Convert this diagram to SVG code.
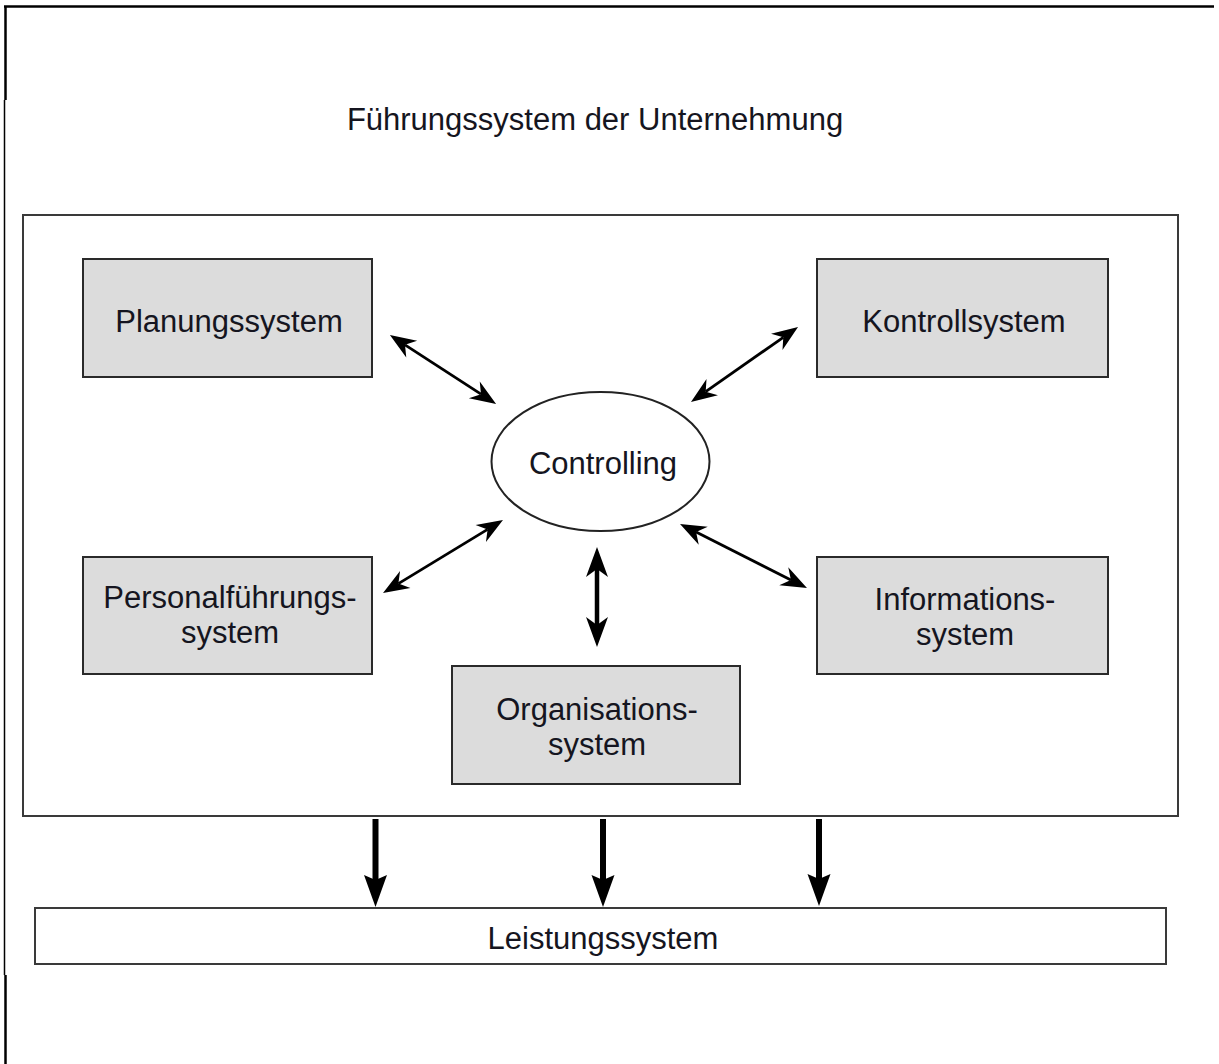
<svg xmlns="http://www.w3.org/2000/svg" width="1219" height="1064" viewBox="0 0 1219 1064">
  <style>
    .txt { font-family: "Liberation Sans", Arial, sans-serif; font-size: 31px; fill: #151520; text-anchor: middle; }
    .box { fill: #dcdcdc; stroke: #2a2a2a; stroke-width: 2; }
    .wbox { fill: #ffffff; stroke: #3a3a3a; stroke-width: 2; }
    .thin { stroke: #000; stroke-width: 2.8; fill: none; }
    .mid { stroke: #000; stroke-width: 4.5; fill: none; }
    .thick { stroke: #000; stroke-width: 6; fill: none; }
    .frame { stroke: #000; fill: none; }
  </style>
  <defs>
    <marker id="ah" markerUnits="userSpaceOnUse" orient="auto-start-reverse" refX="8" refY="0" markerWidth="30" markerHeight="24" viewBox="0 -12 30 24" overflow="visible">
      <path d="M0,-10 L26,0 L0,10 L8,0 Z" fill="#000"/>
    </marker>
    <marker id="ahv" markerUnits="userSpaceOnUse" orient="auto-start-reverse" refX="8" refY="0" markerWidth="34" markerHeight="26" viewBox="0 -13 34 26" overflow="visible">
      <path d="M0,-11 L30,0 L0,11 L8,0 Z" fill="#000"/>
    </marker>
    <marker id="ahd" markerUnits="userSpaceOnUse" orient="auto" refX="5" refY="0" markerWidth="36" markerHeight="28" viewBox="0 -14 36 28" overflow="visible">
      <path d="M0,-11.5 L32,0 L0,11.5 L5,0 Z" fill="#000"/>
    </marker>
  </defs>

  <rect x="0" y="0" width="1219" height="1064" fill="#ffffff"/>

  <g id="frame">
    <line class="frame" x1="4" y1="6.5" x2="1214" y2="6.5" stroke-width="2.5"/>
    <line class="frame" x1="5.5" y1="6" x2="5.5" y2="100" stroke-width="2.5"/>
    <line class="frame" x1="4.5" y1="100" x2="4.5" y2="975" stroke-width="1.5"/>
    <line class="frame" x1="5.5" y1="975" x2="5.5" y2="1064" stroke-width="2.5"/>
  </g>

  <g id="title">
    <text class="txt" x="595" y="130">Führungssystem der Unternehmung</text>
  </g>

  <g id="fuehrungssystem">
    <rect class="wbox" x="23" y="215" width="1155" height="601"/>
  </g>

  <g id="planungssystem">
    <rect class="box" x="83" y="259" width="289" height="118"/>
    <text class="txt" x="229" y="332">Planungssystem</text>
  </g>

  <g id="kontrollsystem">
    <rect class="box" x="817" y="259" width="291" height="118"/>
    <text class="txt" x="964" y="332">Kontrollsystem</text>
  </g>

  <g id="controlling">
    <ellipse cx="600.5" cy="461.5" rx="109" ry="69.5" fill="#ffffff" stroke="#222" stroke-width="2"/>
    <text class="txt" x="603" y="474">Controlling</text>
  </g>

  <g id="personalfuehrungssystem">
    <rect class="box" x="83" y="557" width="289" height="117"/>
    <text class="txt" x="230" y="608">Personalführungs-</text>
    <text class="txt" x="230" y="643">system</text>
  </g>

  <g id="informationssystem">
    <rect class="box" x="817" y="557" width="291" height="117"/>
    <text class="txt" x="965" y="610">Informations-</text>
    <text class="txt" x="965" y="645">system</text>
  </g>

  <g id="organisationssystem">
    <rect class="box" x="452" y="666" width="288" height="118"/>
    <text class="txt" x="597" y="720">Organisations-</text>
    <text class="txt" x="597" y="755">system</text>
  </g>

  <g id="leistungssystem">
    <rect class="wbox" x="35" y="908" width="1131" height="56"/>
    <text class="txt" x="603" y="949">Leistungssystem</text>
  </g>

  <g id="connectors">
    <line class="thin" x1="405" y1="344.8" x2="481" y2="394.2" marker-start="url(#ah)" marker-end="url(#ah)"/>
    <line class="thin" x1="783.3" y1="337.3" x2="705.7" y2="391.7" marker-start="url(#ah)" marker-end="url(#ah)"/>
    <line class="thin" x1="398.4" y1="583.6" x2="487.6" y2="529.4" marker-start="url(#ah)" marker-end="url(#ah)"/>
    <line class="thin" x1="696.1" y1="532.1" x2="790.9" y2="579.9" marker-start="url(#ah)" marker-end="url(#ah)"/>
    <line class="mid" x1="597" y1="569" x2="597" y2="625" marker-start="url(#ahv)" marker-end="url(#ahv)"/>
    <line class="thick" x1="375.5" y1="819" x2="375.5" y2="880" marker-end="url(#ahd)"/>
    <line class="thick" x1="603" y1="819" x2="603" y2="880" marker-end="url(#ahd)"/>
    <line class="thick" x1="819" y1="819" x2="819" y2="879" marker-end="url(#ahd)"/>
  </g>
</svg>
